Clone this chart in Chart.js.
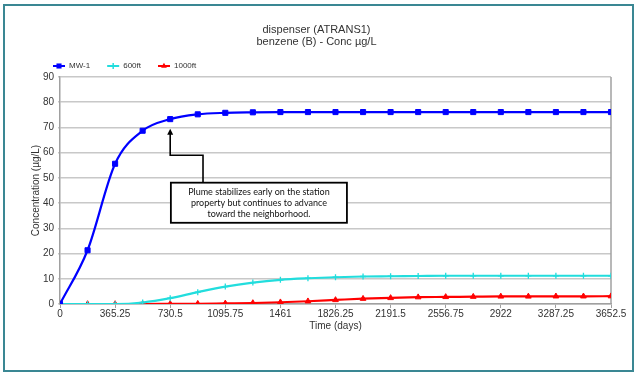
<!DOCTYPE html>
<html><head><meta charset="utf-8">
<script src="https://cdn.jsdelivr.net/npm/chart.js@4/dist/chart.umd.min.js"></script>
<style>
html,body{margin:0;padding:0;background:#fff;}
#wrap{position:relative;width:639px;height:376px;overflow:hidden;background:#fff;}
#frame{position:absolute;left:3px;top:4px;width:627px;height:364px;border:2px solid #3a8793;pointer-events:none;}
canvas{position:absolute;left:0;top:0;}
</style></head><body>
<div id="wrap"><canvas id="c" width="639" height="376"></canvas><div id="frame"></div></div>
<script>
// ---- data ----
const titleLines = ['dispenser (ATRANS1)', 'benzene (B) - Conc µg/L'];
const xAxisTitle = 'Time (days)';
const yAxisTitle = 'Concentration (µg/L)';
const days = [0, 182.625, 365.25, 547.875, 730.5, 913.125, 1095.75, 1278.375, 1461, 1643.625, 1826.25, 2008.875, 2191.5, 2374.125, 2556.75, 2739.375, 2922, 3104.625, 3287.25, 3469.875, 3652.5];
const xTicks = [0, 365.25, 730.5, 1095.75, 1461, 1826.25, 2191.5, 2556.75, 2922, 3287.25, 3652.5];
const yTicks = [0, 10, 20, 30, 40, 50, 60, 70, 80, 90];
const seriesNames = ['MW-1', '600ft', '1000ft'];
const mw1    = [0, 21.3, 55.6, 68.7, 73.3, 75.2, 75.8, 76.0, 76.1, 76.1, 76.1, 76.1, 76.1, 76.1, 76.1, 76.1, 76.1, 76.1, 76.1, 76.1, 76.1];
const ft600  = [0, 0, 0, 0.6, 2.3, 4.7, 6.9, 8.5, 9.6, 10.2, 10.6, 10.9, 11.0, 11.1, 11.2, 11.2, 11.2, 11.2, 11.2, 11.2, 11.2];
const ft1000 = [0, 0, 0, 0, 0.05, 0.1, 0.25, 0.4, 0.7, 1.1, 1.6, 2.1, 2.4, 2.7, 2.8, 2.9, 3.0, 3.0, 3.05, 3.05, 3.1];
const noteLines = ['Plume stabilizes early on the station', 'property but continues to advance', 'toward the neighborhood.'];
// annotation anchors (data coordinates)
const noteAnchor = { tipX: 730.5, tipY: 69.5, elbowX: 948, elbowY: 59, boxX0: 735, boxX1: 1902, boxY0: 48.1, boxY1: 32.2 };

const colors = ['#0000ff', '#22dddd', '#ff0000'];
const styles = ['rect', 'cross', 'triangle'];
const radii = [3.6, 3, 3.3];
const seriesData = [mw1, ft600, ft1000];

const toXY = arr => arr.map((v, i) => ({ x: days[i], y: v }));

function drawMarker(ctx, style, x, y, r, color) {
  ctx.save();
  ctx.fillStyle = color; ctx.strokeStyle = color; ctx.lineWidth = 1.5;
  ctx.beginPath();
  if (style === 'rect') {
    const s = r * Math.SQRT1_2;
    ctx.rect(x - s, y - s, 2 * s, 2 * s); ctx.fill();
  } else if (style === 'triangle') {
    ctx.moveTo(x, y - r); ctx.lineTo(x + r * 0.87, y + r * 0.5); ctx.lineTo(x - r * 0.87, y + r * 0.5); ctx.closePath(); ctx.fill();
  } else {
    ctx.moveTo(x - r, y); ctx.lineTo(x + r, y); ctx.moveTo(x, y - r); ctx.lineTo(x, y + r); ctx.stroke();
  }
  ctx.restore();
}

const deco = {
  id: 'deco',
  beforeDatasetsDraw(chart) {
    const { ctx, chartArea: a } = chart;
    ctx.save();
    ctx.strokeStyle = '#a0a0a0'; ctx.lineWidth = 1.5;
    ctx.beginPath(); ctx.moveTo(a.right, a.top); ctx.lineTo(a.right, a.bottom); ctx.stroke();
    ctx.restore();
  },
  afterDraw(chart) {
    const { ctx } = chart;
    const xs = chart.scales.x, ys = chart.scales.y;
    // legend
    ctx.save();
    ctx.font = '8px "Liberation Sans", Arial, sans-serif';
    ctx.textBaseline = 'middle'; ctx.textAlign = 'left';
    let lx = 53; const ly = 66;
    chart.data.datasets.forEach((ds, i) => {
      ctx.strokeStyle = ds.borderColor; ctx.lineWidth = 2;
      ctx.beginPath(); ctx.moveTo(lx, ly); ctx.lineTo(lx + 12, ly); ctx.stroke();
      drawMarker(ctx, ds.pointStyle, lx + 6, ly, ds.pointRadius, ds.borderColor);
      ctx.fillStyle = '#333';
      ctx.fillText(ds.label, lx + 16, ly);
      lx += 16 + ctx.measureText(ds.label).width + 17;
    });
    ctx.restore();
    // annotation
    const tx = xs.getPixelForValue(noteAnchor.tipX), ty = ys.getPixelForValue(noteAnchor.tipY);
    const ex = xs.getPixelForValue(noteAnchor.elbowX), ey = ys.getPixelForValue(noteAnchor.elbowY);
    const bx0 = xs.getPixelForValue(noteAnchor.boxX0), bx1 = xs.getPixelForValue(noteAnchor.boxX1);
    const by0 = ys.getPixelForValue(noteAnchor.boxY0), by1 = ys.getPixelForValue(noteAnchor.boxY1);
    ctx.save();
    ctx.strokeStyle = '#000'; ctx.fillStyle = '#000'; ctx.lineWidth = 1.6;
    ctx.beginPath();
    ctx.moveTo(ex, by0); ctx.lineTo(ex, ey); ctx.lineTo(tx, ey); ctx.lineTo(tx, ty + 5);
    ctx.stroke();
    ctx.beginPath(); ctx.moveTo(tx, ty); ctx.lineTo(tx + 3, ty + 6); ctx.lineTo(tx - 3, ty + 6); ctx.closePath(); ctx.fill();
    ctx.fillStyle = '#fff';
    ctx.fillRect(bx0, by0, bx1 - bx0, by1 - by0);
    ctx.lineWidth = 1.8;
    ctx.strokeRect(bx0, by0, bx1 - bx0, by1 - by0);
    ctx.fillStyle = '#111';
    ctx.font = '9px Lato, "Open Sans", sans-serif';
    ctx.textAlign = 'center'; ctx.textBaseline = 'middle';
    const cx = (bx0 + bx1) / 2, cy = (by0 + by1) / 2;
    noteLines.forEach((t, i) => ctx.fillText(t, cx, cy + (i - 1) * 11));
    ctx.restore();
  }
};

const fontFam = '"Liberation Sans", Arial, sans-serif';
new Chart(document.getElementById('c'), {
  type: 'line',
  data: {
    datasets: seriesNames.map((n, i) => ({
      label: n,
      data: toXY(seriesData[i]),
      borderColor: colors[i],
      backgroundColor: colors[i],
      borderWidth: 2.2,
      pointStyle: styles[i],
      pointRadius: radii[i],
      pointBorderWidth: styles[i] === 'cross' ? 1.3 : 1,
      cubicInterpolationMode: 'monotone',
      fill: false
    }))
  },
  options: {
    responsive: false, animation: false, devicePixelRatio: 1,
    layout: { padding: { left: 22, right: 28, top: 24, bottom: 44 } },
    plugins: {
      legend: { display: false },
      tooltip: { enabled: false },
      title: {
        display: true, text: titleLines, color: '#333',
        font: { family: fontFam, size: 11, weight: 'normal', lineHeight: 1.1 },
        padding: { top: 0, bottom: 28.8 }
      }
    },
    scales: {
      x: {
        type: 'linear', min: 0, max: 3652.5,
        afterBuildTicks: s => { s.ticks = xTicks.map(v => ({ value: v })); },
        afterFit: s => { s.height = 28; s.paddingRight = 0; s.paddingLeft = 0; },
        ticks: { callback: v => String(v), color: '#333', font: { family: fontFam, size: 10 }, padding: 0, maxRotation: 0, autoSkip: false },
        grid: { display: true, drawOnChartArea: false, drawTicks: true, tickLength: 4, color: '#a0a0a0', lineWidth: 1 },
        border: { color: '#a0a0a0', width: 1.5 },
        title: { display: true, text: xAxisTitle, color: '#333', font: { family: fontFam, size: 10 }, padding: { top: 0, bottom: 0 } }
      },
      y: {
        min: 0, max: 90,
        afterBuildTicks: s => { s.ticks = yTicks.map(v => ({ value: v })); },
        afterFit: s => { s.width = 38; },
        ticks: { color: '#333', font: { family: fontFam, size: 10 }, padding: 4 },
        grid: { color: '#c8c8c8', lineWidth: 1.5, tickLength: 2 },
        border: { color: '#a0a0a0', width: 1.5 },
        title: { display: true, text: yAxisTitle, color: '#333', font: { family: fontFam, size: 10 }, padding: { top: 8, bottom: 0 } }
      }
    }
  },
  plugins: [deco]
});
</script>
</body></html>
